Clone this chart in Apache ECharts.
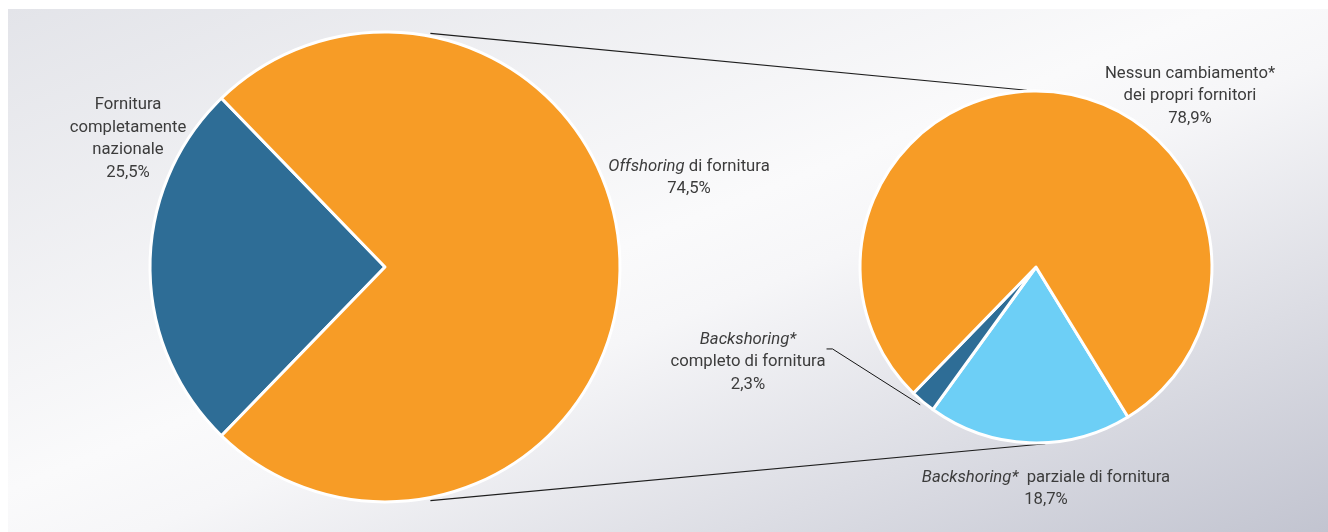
<!DOCTYPE html>
<html>
<head>
<meta charset="utf-8">
<script src="https://cdn.jsdelivr.net/npm/echarts@6/dist/echarts.min.js"></script>
<style>
  html, body { margin: 0; padding: 0; background: #ffffff; }
  #wrap { position: relative; width: 1328px; height: 532px; overflow: hidden; }
  #bg {
    position: absolute; left: 8px; top: 9px; right: 0; bottom: 0;
    background: linear-gradient(to bottom right, #e3e4e9 0%, #fafafb 46%, #f6f6f8 55%, #c2c4d0 100%);
  }
  #chart { position: absolute; left: 0; top: 0; width: 1328px; height: 532px; }
</style>
</head>
<body>
<div id="wrap"><div id="bg"></div><div id="chart"></div></div>
<script>
// Ripartizione principale della fornitura (%)
const mainNames = ['Fornitura completamente nazionale', 'Offshoring di fornitura'];
const mainValues = [25.5, 74.5];
const mainLabels = ['Fornitura\ncompletamente\nnazionale', '{i|Offshoring} di fornitura'];

// Dettaglio delle imprese con offshoring (%)
const detailNames = ['Backshoring* parziale di fornitura', 'Backshoring* completo di fornitura', 'Nessun cambiamento* dei propri fornitori'];
const detailValues = [18.7, 2.3, 78.9];
const detailLabels = ['{i|Backshoring*}  parziale di fornitura', '{i|Backshoring*}\ncompleto di fornitura', 'Nessun cambiamento*\ndei propri fornitori'];

const mainColors = ['#2e6d96', '#f79c26'];
const detailColors = ['#6dcff6', '#2e6d96', '#f79c26'];

// Geometria delle due torte e posizione delle etichette
const leftPie = { center: [385, 267], r: 235, start: 225.9 };
const rightPie = { center: [1036, 267], r: 176, start: 301.5 };
const mainLabelPos = [[128, 139], [689, 178]];
const detailLabelPos = [[1046, 489], [748, 362], [1190, 96]];

const FONT = 'Roboto, "Noto Sans", sans-serif';
const TEXT = '#3c3c3c';
const FS = 16.7;
const LH = 22.5;

const pct = v => v.toFixed(1).replace('.', ',') + '%';

const labelBase = {
  show: true,
  position: 'outside',
  color: TEXT,
  fontFamily: FONT,
  fontSize: FS,
  lineHeight: LH,
  align: 'center',
  rich: {
    i: { fontStyle: 'italic', color: TEXT, fontFamily: FONT, fontSize: FS, lineHeight: LH }
  }
};

function pieData(names, values, labels, colors, lineIdx) {
  return names.map((n, i) => ({
    name: n,
    value: values[i],
    itemStyle: { color: colors[i] },
    label: { formatter: labels[i] + '\n' + pct(values[i]) },
    labelLine: i === lineIdx
      ? { show: true, length: 12, length2: 6, smooth: false, lineStyle: { color: '#141414', width: 1 } }
      : { show: false }
  }));
}

// Linee di raccordo tra le due torte (tangenti approssimate)
function polar(c, r, deg) {
  const a = deg * Math.PI / 180;
  return [c[0] + r * Math.cos(a), c[1] - r * Math.sin(a)];
}
const t1 = polar(leftPie.center, leftPie.r + 3, 79), t2 = polar(rightPie.center, rightPie.r + 1, 93);
const b1 = polar(leftPie.center, leftPie.r + 3, -79), b2 = polar(rightPie.center, rightPie.r + 1, -87);

// Posiziona le etichette; per la fetta con linea guida, la linea parte
// dal bordo destro del testo e termina sul bordo esterno della fetta
function layoutFor(positions, lineIdx, pie) {
  return p => {
    const pos = positions[p.dataIndex];
    const out = { x: pos[0], y: pos[1], align: 'center', verticalAlign: 'middle' };
    if (p.dataIndex === lineIdx && p.labelLinePoints) {
      const w = p.labelRect.width;
      const right = pos[0] + w / 2 + 1;
      const y = pos[1] - LH * 0.58;
      const a = p.labelLinePoints[0];
      const dx = a[0] - pie.center[0], dy = a[1] - pie.center[1];
      const d = Math.sqrt(dx * dx + dy * dy);
      const end = [pie.center[0] + dx / d * (pie.r + 4), pie.center[1] + dy / d * (pie.r + 4)];
      out.labelLinePoints = [end, [right + 6, y], [right, y]];
    }
    return out;
  };
}

const chart = echarts.init(document.getElementById('chart'), null, { renderer: 'canvas' });
chart.setOption({
  backgroundColor: 'transparent',
  animation: false,
  graphic: [
    { type: 'line', z: 0, shape: { x1: t1[0], y1: t1[1], x2: t2[0], y2: t2[1] }, style: { stroke: '#1e1e1e', lineWidth: 1.2 } },
    { type: 'line', z: 0, shape: { x1: b1[0], y1: b1[1], x2: b2[0], y2: b2[1] }, style: { stroke: '#1e1e1e', lineWidth: 1.2 } }
  ],
  series: [
    {
      type: 'pie',
      z: 5,
      silent: true,
      center: leftPie.center,
      radius: leftPie.r,
      startAngle: leftPie.start,
      clockwise: true,
      avoidLabelOverlap: false,
      itemStyle: { borderColor: '#ffffff', borderWidth: 3 },
      label: labelBase,
      labelLayout: layoutFor(mainLabelPos, -1, leftPie),
      data: pieData(mainNames, mainValues, mainLabels, mainColors, -1)
    },
    {
      type: 'pie',
      z: 5,
      silent: true,
      center: rightPie.center,
      radius: rightPie.r,
      startAngle: rightPie.start,
      clockwise: true,
      avoidLabelOverlap: false,
      itemStyle: { borderColor: '#ffffff', borderWidth: 3 },
      label: labelBase,
      labelLayout: layoutFor(detailLabelPos, 1, rightPie),
      data: pieData(detailNames, detailValues, detailLabels, detailColors, 1)
    }
  ]
});
</script>
</body>
</html>
